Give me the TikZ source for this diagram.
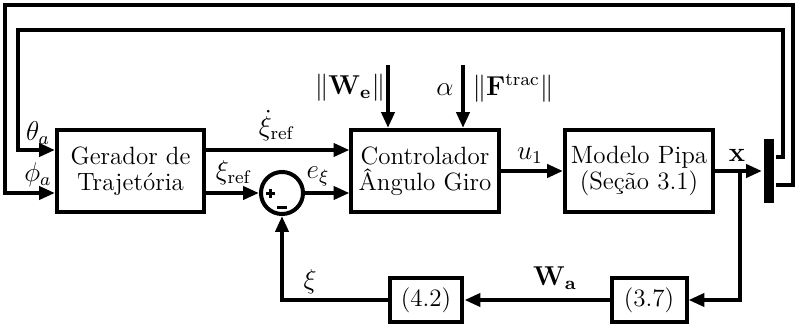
\documentclass[tikz,border=0pt]{standalone}
\usetikzlibrary{arrows.meta,calc}
\begin{document}
\begin{tikzpicture}[x=0.44pt,y=-0.44pt,line width=1.76pt,
  font=\fontsize{11}{11.5}\selectfont,
  >={Triangle[length=7pt,width=5.7pt]},
  blk/.style={draw,line width=1.76pt,minimum width=64.7pt,minimum height=36.1pt,align=center,inner sep=0pt},
  lbl/.style={inner sep=0pt,font=\fontsize{12}{14}\selectfont}]
\useasboundingbox (0,0) rectangle (798,328);
% blocks
\node[blk] (gen) at (130.5,171) {Gerador de\\Trajetória};
\node[blk] (ctrl) at (425,171) {Controlador\\Ângulo Giro};
\node[blk,minimum width=65.1pt] (model) at (639,171) {Modelo Pipa\\(Seção 3.1)};
\node[draw,circle,minimum size=18.5pt,inner sep=0pt] (sum) at (282,193) {};
\node[fill,draw=none,minimum width=4.4pt,minimum height=28.2pt,inner sep=0pt] (bar) at (769,171) {};
\node[blk,minimum width=33pt,minimum height=19.4pt] (b37) at (649,300) {(3.7)};
\node[blk,minimum width=32.1pt,minimum height=19.4pt] (b42) at (426,300) {(4.2)};
% helper coordinates
\coordinate (yA) at (0,150);
\coordinate (yB) at (0,193);
\coordinate (f1) at (0,157);
\coordinate (f2) at (0,185);
\coordinate (we) at (388,65);
\coordinate (al) at (463,65);
\coordinate (br) at (740,171);
\coordinate (in1) at (783,30);
\coordinate (in2) at (18,30);
\coordinate (out1) at (793,5);
\coordinate (out2) at (5,5);
% connectors
\draw[->] (gen.east |- yA) -- (ctrl.west |- yA);
\draw[->] (gen.east |- yB) -- (sum.west);
\draw[->] (sum.east) -- (ctrl.west |- sum.east);
\draw[->] (we) -- (we |- ctrl.north);
\draw[->] (al) -- (al |- ctrl.north);
\draw[->] (ctrl.east) -- (model.west);
\draw[->] (model.east) -- (bar.west);
\draw[->] (br) |- (b37.east);
\draw[->] (b37.west) -- (b42.east);
\draw[->] (b42.west) -| (sum.south);
\draw[->] (bar.east |- f1) -| (in1) -- (in2) |- (gen.west |- yA);
\draw[->] (bar.east |- f2) -| (out1) -- (out2) |- (gen.west |- yB);
% signs in summing junction
\draw[line width=1.1pt] (266,193.5) -- (275,193.5) (270.5,189) -- (270.5,198);
\draw[line width=1.3pt] (277,207.5) -- (287,207.5);
% labels
\node[lbl,anchor=south] (lth) at (38,147) {$\theta_a$};
\node[lbl,anchor=south] (lph) at (38,189) {$\phi_a$};
\node[lbl,anchor=south] (lxd) at (277,143) {$\dot{\xi}_{\mathrm{ref}}$};
\node[lbl,anchor=south] (lxr) at (234,187) {$\xi_{\mathrm{ref}}$};
\node[lbl,anchor=south] (le) at (318,188) {$e_\xi$};
\node[lbl] (lwe) at (350,88) {$\|\mathbf{W}_{\mathbf{e}}\|$};
\node[lbl] (lal) at (445,90) {$\alpha$};
\node[lbl] (lft) at (513,88) {$\|\mathbf{F}^{\mathrm{trac}}\|$};
\node[lbl,anchor=south] (lu) at (530,166) {$u_1$};
\node[lbl,anchor=south] (lx) at (737,164) {$\mathbf{x}$};
\node[lbl,anchor=south] (lwa) at (555,292) {$\mathbf{W}_{\mathbf{a}}$};
\node[lbl,anchor=south] (lxi) at (310,296) {$\xi$};
\end{tikzpicture}
\end{document}
